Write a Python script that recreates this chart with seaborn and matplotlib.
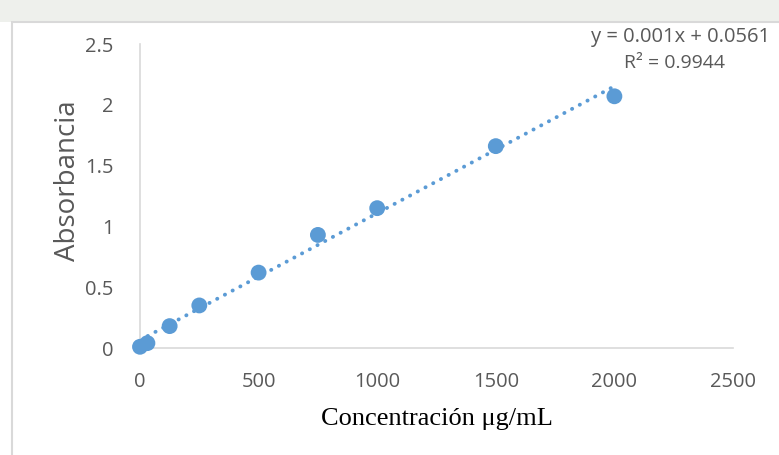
import matplotlib
matplotlib.use("Agg")
import matplotlib.pyplot as plt
import seaborn as sns
import numpy as np
import pandas as pd
from matplotlib.patches import Rectangle

# calibration curve data
concentracion = [0, 31.25, 125, 250, 500, 750, 1000, 1500, 2000]
absorbancia = [0.01, 0.04, 0.18, 0.35, 0.62, 0.93, 1.15, 1.66, 2.07]
x_ticks = [0, 500, 1000, 1500, 2000, 2500]
y_ticks = [0, 0.5, 1, 1.5, 2, 2.5]
y_tick_labels = ["0", "0.5", "1", "1.5", "2", "2.5"]
ecuacion = "y = 0.001x + 0.0561"
r2 = "R² = 0.9944"

BLUE = "#5b9bd5"
GRAY = "#595959"

df = pd.DataFrame({"conc": concentracion, "abs": absorbancia})

sns.set_style("white")
plt.rcParams["font.family"] = ["Open Sans", "DejaVu Sans"]

fig = plt.figure(figsize=(7.79, 4.55), dpi=100)
fig.patch.set_facecolor("white")

# faint background strip above the chart frame, then the chart frame
fig.patches.append(Rectangle((0, 1 - 22 / 455), 1, 22 / 455, transform=fig.transFigure,
                             facecolor="#eef0ec", edgecolor="none", zorder=-2))
fig.patches.append(Rectangle((12 / 779, -0.01), 1.01, 1 - 22 / 455 + 0.01,
                             transform=fig.transFigure, facecolor="white",
                             edgecolor="#d9d9d9", linewidth=1.5, zorder=-1))

ax = fig.add_axes([140 / 779, 1 - 348 / 455, 593 / 779, 304 / 455])
ax.set_facecolor("none")

sns.regplot(data=df, x="conc", y="abs", ax=ax, ci=None, truncate=True,
            scatter_kws={"s": 130, "color": BLUE, "alpha": 1, "zorder": 3,
                         "edgecolors": "none", "clip_on": False},
            line_kws={"color": BLUE, "linestyle": (0, (0.05, 2.2)), "linewidth": 2.8,
                      "dash_capstyle": "round", "zorder": 2})

ax.set_xlim(0, 2500)
ax.set_ylim(0, 2.5)
ax.set_xticks(x_ticks)
ax.set_yticks(y_ticks)
ax.set_yticklabels(y_tick_labels)
ax.tick_params(axis="both", length=0, labelsize=14.5, labelcolor=GRAY)
ax.tick_params(axis="x", pad=17)
ax.tick_params(axis="y", pad=19)

for side in ["top", "right"]:
    ax.spines[side].set_visible(False)
for side in ["left", "bottom"]:
    ax.spines[side].set_color("#d9d9d9")
    ax.spines[side].set_linewidth(1.2)

ax.set_xlabel("Concentración μg/mL", fontsize=19, family="Liberation Serif",
              color="black", labelpad=12)
ax.set_ylabel("Absorbancia", fontsize=20, color=GRAY)
ax.yaxis.set_label_coords(-58 / 593, 0.55)

fig.text(681 / 779, 1 - 37 / 455, ecuacion, ha="center", va="center",
         fontsize=14.5, color=GRAY)
fig.text(674 / 779, 1 - 63 / 455, r2, ha="center", va="center",
         fontsize=14, color=GRAY)

fig.savefig("out.png", dpi=100)
plt.close(fig)
